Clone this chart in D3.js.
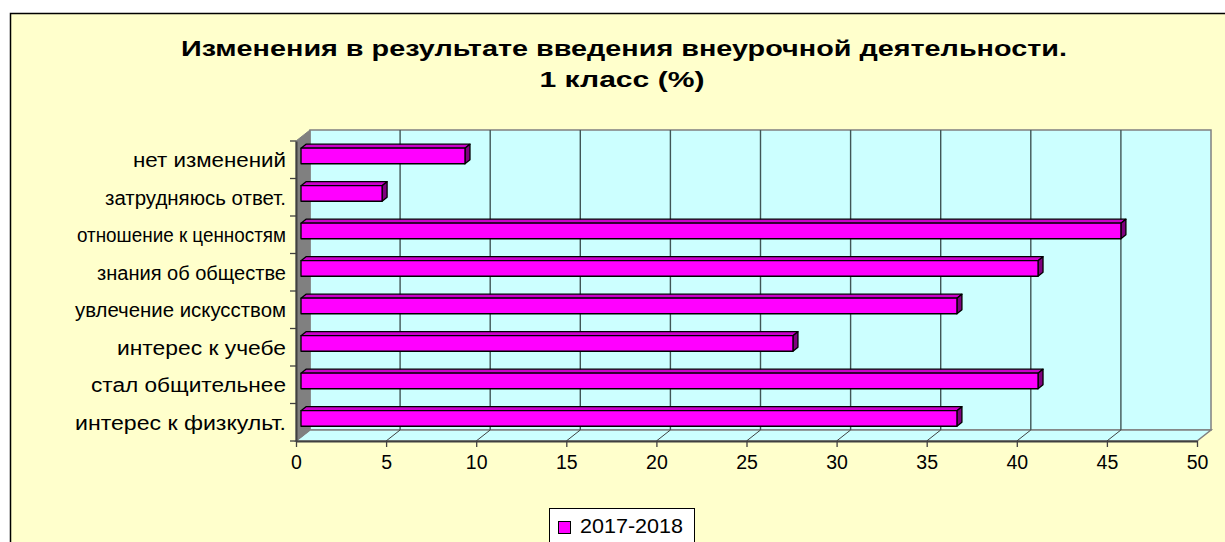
<!DOCTYPE html>
<html>
<head>
<meta charset="utf-8">
<script src="https://cdn.jsdelivr.net/npm/d3@7"></script>
<style>
  html, body { margin: 0; padding: 0; background: #ffffff; }
  svg { display: block; }
  text { font-family: "Liberation Sans", Arial, sans-serif; }
</style>
</head>
<body>
<svg id="chart" width="1225" height="542"></svg>
<script>
// ---- data ----
const titleLines = ["Изменения в результате введения внеурочной деятельности.", "1  класс (%)"];
const categories = [
  "нет изменений",
  "затрудняюсь ответ.",
  "отношение к ценностям",
  "знания об обществе",
  "увлечение искусством",
  "интерес к учебе",
  "стал общительнее",
  "интерес к физкульт."
];
const values2017 = [9.1, 4.5, 45.5, 40.9, 36.4, 27.3, 40.9, 36.4];
const seriesName = "2017-2018";
const xTicks = [0, 5, 10, 15, 20, 25, 30, 35, 40, 45, 50];

// ---- layout ----
(function () {
const svg = d3.select("#chart");
const W = 1225, H = 542;
const pL = 296, pR = 1197, pT = 141, pB = 441;
const DX = 14, DY = -11;       // depth of 3D plot
const BDX = 5, BDY = -4;       // bar depth offset (front face)
// rendered label widths in the original (Excel glyph metrics differ)
const labelFit = {
  "нет изменений": 153, "затрудняюсь ответ.": 181, "отношение к ценностям": 209,
  "знания об обществе": 189, "увлечение искусством": 211, "интерес к учебе": 169,
  "стал общительнее": 195, "интерес к физкульт.": 211
};

const x = d3.scaleLinear().domain([0, 50]).range([pL, pR]);
const y = d3.scaleBand().domain(categories).range([pT, pB]).paddingInner(0).paddingOuter(0);

// chart area
svg.append("rect").attr("x", 0).attr("y", 0).attr("width", W).attr("height", H).attr("fill", "#ffffff");
svg.append("rect").attr("x", 10.5).attr("y", 13.5).attr("width", W + 20).attr("height", H + 20)
  .attr("fill", "#FFFFCC").attr("stroke", "#000").attr("stroke-width", 1.5);

// title
const title = svg.append("text").attr("text-anchor", "middle")
  .attr("font-weight", "bold").attr("font-size", 22.5).attr("fill", "#000");
title.append("tspan").attr("x", 624).attr("y", 56).attr("textLength", 886).attr("lengthAdjust", "spacingAndGlyphs").text(titleLines[0]);
title.append("tspan").attr("x", 622).attr("y", 87).attr("textLength", 165).attr("lengthAdjust", "spacingAndGlyphs").text(titleLines[1]);

// back wall
svg.append("rect").attr("x", pL + DX).attr("y", pT + DY).attr("width", pR - pL).attr("height", pB - pT)
  .attr("fill", "#CCFFFF").attr("stroke", "#808080").attr("stroke-width", 1.5);
// floor
svg.append("polygon")
  .attr("points", [[pL, pB], [pR, pB], [pR + DX, pB + DY], [pL + DX, pB + DY]].map(p => p.join(",")).join(" "))
  .attr("fill", "#CCFFFF").attr("stroke", "#808080").attr("stroke-width", 1.5);

// gridlines on back wall and floor
const grid = svg.append("g");
xTicks.filter(t => t > 0 && t < 50).forEach(t => {
  grid.append("line").attr("x1", x(t) + DX).attr("x2", x(t) + DX).attr("y1", pT + DY).attr("y2", pB + DY)
    .attr("stroke", "#405656").attr("stroke-width", 1.4);
  grid.append("line").attr("x1", x(t)).attr("x2", x(t) + DX).attr("y1", pB).attr("y2", pB + DY)
    .attr("stroke", "#404040").attr("stroke-width", 1);
});

// left wall
svg.append("polygon")
  .attr("points", [[pL, pT], [pL + DX, pT + DY], [pL + DX, pB + DY], [pL, pB]].map(p => p.join(",")).join(" "))
  .attr("fill", "#808080").attr("stroke", "#808080").attr("stroke-width", 1);

// bars (3D)
const barH = 15.6;
const bars = svg.append("g");
categories.forEach((c, i) => {
  const v = values2017[i];
  const yc = y(c) + y.bandwidth() / 2;
  const x0 = x(0) + BDX, x1 = x(v) + BDX;
  const y0 = yc + BDY - barH / 2 + 0.2, y1 = y0 + barH;
  const g = bars.append("g").attr("stroke", "#000").attr("stroke-width", 1.3).attr("stroke-linejoin", "round");
  g.append("polygon").attr("points", [[x0, y0], [x1, y0], [x1 + BDX, y0 + BDY], [x0 + BDX, y0 + BDY]].map(p => p.join(",")).join(" "))
    .attr("fill", "#CC00CC");
  g.append("polygon").attr("points", [[x1, y0], [x1 + BDX, y0 + BDY], [x1 + BDX, y1 + BDY], [x1, y1]].map(p => p.join(",")).join(" "))
    .attr("fill", "#800080");
  g.append("rect").attr("x", x0).attr("y", y0).attr("width", x1 - x0).attr("height", barH).attr("fill", "#FF00FF");
});

// bottom axis
const xAxis = d3.axisBottom(x).tickValues(xTicks).tickSize(6).tickPadding(10).tickSizeOuter(0);
const gx = svg.append("g").attr("transform", `translate(0,${pB})`).call(xAxis);
gx.select(".domain").attr("stroke", "#404040").attr("stroke-width", 2);
gx.selectAll(".tick line").attr("stroke", "#404040").attr("stroke-width", 1.3);
gx.selectAll(".tick text").attr("font-size", 19.5).attr("font-family", "Liberation Sans, Arial, sans-serif").attr("fill", "#000").attr("dy", "0.71em").attr("y", 14);

// left axis
const yAxis = d3.axisLeft(y).tickSize(0).tickPadding(10);
const gy = svg.append("g").attr("transform", `translate(${pL},0)`).call(yAxis);
gy.select(".domain").attr("stroke", "#404040").attr("stroke-width", 2);
gy.selectAll(".tick text").attr("font-size", 20).attr("font-family", "Liberation Sans, Arial, sans-serif").attr("fill", "#000").attr("dy", "0.38em")
  .attr("textLength", d => labelFit[d]).attr("lengthAdjust", "spacingAndGlyphs");
const edges = categories.map(c => y(c)).concat([pB]);
gy.selectAll("line.edge").data(edges).enter().append("line").attr("class", "edge")
  .attr("x1", -6).attr("x2", 0).attr("y1", d => d).attr("y2", d => d)
  .attr("stroke", "#404040").attr("stroke-width", 1.3);

// legend
const lg = svg.append("g");
lg.append("rect").attr("x", 549.5).attr("y", 508.5).attr("width", 145).attr("height", 60)
  .attr("fill", "#ffffff").attr("stroke", "#000").attr("stroke-width", 1);
lg.append("rect").attr("x", 558.5).attr("y", 521.5).attr("width", 12).attr("height", 12)
  .attr("fill", "#FF00FF").attr("stroke", "#000").attr("stroke-width", 1);
lg.append("text").attr("x", 580).attr("y", 533).attr("font-size", 20.5).attr("fill", "#000")
  .attr("textLength", 103).attr("lengthAdjust", "spacingAndGlyphs").text(seriesName);
})();
</script>
</body>
</html>
